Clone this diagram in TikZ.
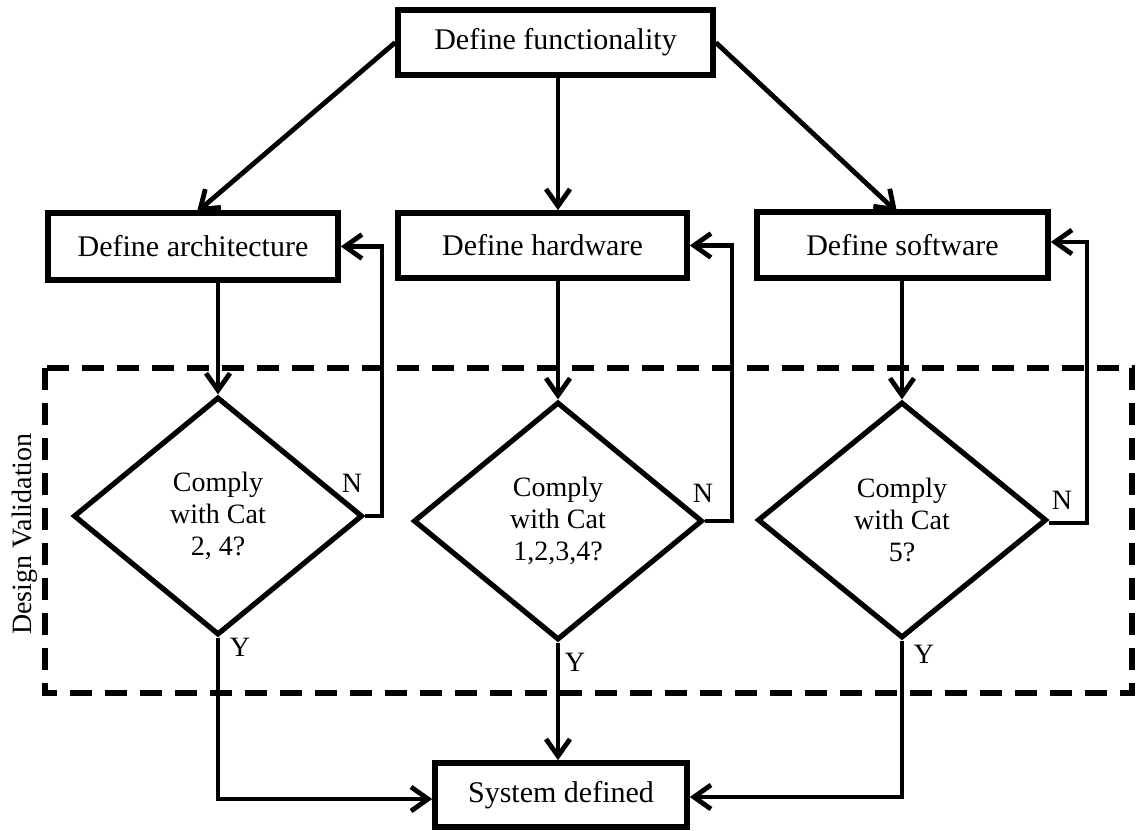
\documentclass[tikz,border=0pt]{standalone}
\usepackage{fontspec}
\setmainfont{Liberation Serif}
\usetikzlibrary{shapes.geometric,arrows.meta}
\begin{document}
\begin{tikzpicture}[x=0.5pt,y=-0.5pt,
  boxnode/.style={draw,line width=2.8pt,rectangle,inner sep=0pt,font=\fontsize{15}{18}\selectfont},
  decnode/.style={draw,line width=2.6pt,diamond,inner sep=0pt,align=center,font=\fontsize{14}{16}\selectfont},
  conn/.style={line width=2.4pt,-{Straight Barb[length=8.5pt,width=12pt,line width=2.4pt]}},
  lbl/.style={font=\fontsize{14}{16}\selectfont,inner sep=0pt},
  zone/.style={line width=2.9pt,dash pattern=on 11pt off 6.5pt}
]
\useasboundingbox (0,0) rectangle (1142,831);
% dashed zone
\draw[zone] (45,368) rectangle (1132,693);
\node[lbl,rotate=90] (dv) at (25,534) {Design Validation};

% boxes
\node[boxnode,minimum width=157.5pt,minimum height=32.5pt] (func) at (555.5,42.5) {Define functionality};
\node[boxnode,minimum width=145pt,minimum height=33.5pt] (arch) at (193,246.5) {Define architecture};
\node[boxnode,minimum width=144.5pt,minimum height=32.5pt] (hw) at (542.5,245.5) {Define hardware};
\node[boxnode,minimum width=145.5pt,minimum height=33pt] (sw) at (902.5,245) {Define software};
\node[boxnode,minimum width=126pt,minimum height=32pt] (sys) at (561,795) {System defined};

% diamonds
\node[decnode,minimum width=144.5pt,minimum height=119pt] (d1) at (218,516) {Comply\\with Cat\\2, 4?};
\node[decnode,minimum width=144.5pt,minimum height=119pt] (d2) at (558,521) {Comply\\with Cat\\1,2,3,4?};
\node[decnode,minimum width=144.5pt,minimum height=118pt] (d3) at (902,520) {Comply\\with Cat\\5?};

% from functionality
\coordinate (ta) at (197,212);
\coordinate (ts) at (897,212);
\draw[conn] (func.west) -- (ta);
\draw[conn] (func.south -| d2.north) -- (hw.north -| d2.north);
\draw[conn] (func.east) -- (ts);

% to diamonds
\draw[conn] (arch.south -| d1.north) -- (d1.north);
\draw[conn] (hw.south -| d2.north) -- (d2.north);
\draw[conn] (sw.south -| d3.north) -- (d3.north);

% feedback loops
\coordinate (f1) at (382,0);
\coordinate (f2) at (732,0);
\coordinate (f3) at (1087,0);
\draw[conn] (d1.east) -- (d1.east -| f1) -- (arch.east -| f1) -- (arch.east);
\draw[conn] (d2.east) -- (d2.east -| f2) -- (hw.east -| f2) -- (hw.east);
\draw[conn] ([yshift=-1.5pt]d3.east) -- ([yshift=-1.5pt]d3.east -| f3) -- ([yshift=1.5pt]sw.east -| f3) -- ([yshift=1.5pt]sw.east);

% yes paths
\draw[conn] (d1.south) -- ([yshift=-2pt]d1.south |- sys.west) -- ([yshift=-2pt]sys.west);
\draw[conn] (d2.south) -- (d2.south |- sys.north);
\draw[conn] (d3.south) -- ([yshift=-1pt]d3.south |- sys.east) -- ([yshift=-1pt]sys.east);

% labels
\node[lbl] (n1) at (352,483) {N};
\node[lbl] (n2) at (703,493) {N};
\node[lbl] (n3) at (1062,500) {N};
\node[lbl] (y1) at (240,647) {Y};
\node[lbl] (y2) at (575,662) {Y};
\node[lbl] (y3) at (924,654) {Y};
\end{tikzpicture}
\end{document}
